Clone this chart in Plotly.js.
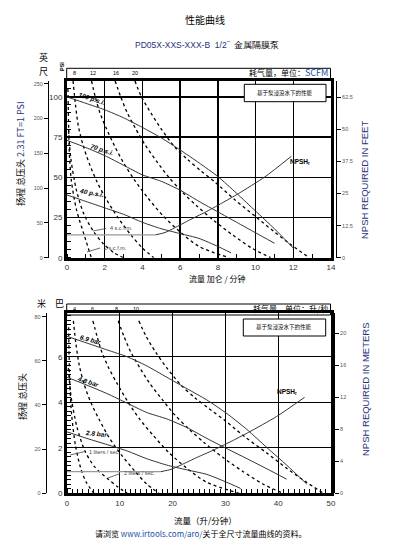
<!DOCTYPE html>
<html><head><meta charset="utf-8">
<script src="https://cdn.plot.ly/plotly-3.0.1.min.js"></script>
<style>html,body{margin:0;padding:0;background:#fff}</style>
</head><body><div id="chart" style="width:393px;height:560px"></div>
<script>
// ---------- TOP CHART (US units: flow gpm, head psi) ----------
const usFlowTicks = [0, 2, 4, 6, 8, 10, 12, 14];
const psiTicks = [0, 25, 50, 75, 100];
const feetTicks = [0, 50, 100, 150, 200, 250];
const npshFeetTicks = [0, 12.5, 25, 37.5, 50, 62.5];
const scfmLabels = ['8', '12', '16', '20'];
const scfmLabelFlow = [0.41, 1.38, 2.61, 3.58];

const p100Flow = [0, 1, 2, 3, 4, 5, 6, 7, 8, 9, 10, 11, 12];
const p100Head = [100, 96, 92, 87, 81, 74.5, 67, 59, 50.5, 40, 29, 18, 6];
const p70Flow = [0, 1, 2, 3, 4, 5, 6, 7, 8, 9, 10, 11];
const p70Head = [73, 68.5, 63.5, 57.5, 51.5, 47.5, 42, 35, 28.5, 22, 15.5, 9];
const p40Flow = [0, 1, 2, 3, 4, 5, 6, 7, 8, 8.7];
const p40Head = [39, 35, 31, 27, 22, 18, 15, 12, 7, 3];

const npshFlatFlow = [0, 4.7];
const npshFlatFt = [8.9, 8.9];
const npshFlow = [4.7, 5.2, 5.7, 6.5, 7.3, 8.2, 9.1, 10.5, 11.9];
const npshFt = [8.9, 9.8, 11.6, 14.7, 17.6, 21.2, 25, 31.5, 39.5];

const s2Flow = [0.05, 0.08, 0.11, 0.14, 0.23, 0.5, 0.94, 1.29];
const s2Head = [105, 85, 70, 61, 48, 30, 13, 0];
const s4Flow = [0.08, 0.2, 0.5, 0.9, 1.37, 1.9, 2.5, 3.0];
const s4Head = [80, 62, 42, 27, 17, 9, 3, 0];
const s8Flow = [0.32, 0.45, 0.6, 0.85, 1.2, 1.6, 2.1, 2.7, 3.4, 4.0, 4.6];
const s8Head = [110, 95, 82, 70, 58, 47, 36, 25, 14, 6, 0];
const s12Flow = [1.3, 1.5, 1.75, 2.1, 2.5, 3.0, 3.6, 4.3, 5.1, 6.0, 7.0, 8.6];
const s12Head = [110, 100, 90, 80, 70, 59, 48, 37, 26, 16, 7, 0];
const s16Flow = [2.55, 2.85, 3.2, 3.65, 4.15, 4.75, 5.4, 6.1, 6.9, 7.8, 8.8, 9.8, 10.8];
const s16Head = [110, 100, 90, 80, 70, 60, 50, 41, 32, 23, 14, 6, 0];
const s20Flow = [3.6, 3.95, 4.45, 5.0, 5.7, 6.4, 7.1, 7.9, 8.9, 10.0, 11.0, 11.9, 12.85];
const s20Head = [110, 100, 90, 80, 69, 61, 54, 46.5, 36, 25.6, 16, 7.9, 0];

// ---------- BOTTOM CHART (metric: flow l/min, head bar) ----------
const lpmTicks = [0, 10, 20, 30, 40, 50];
const barTicks = [0, 2, 4, 6];
const meterTicks = [0, 20, 40, 60, 80];
const npshMeterTicks = [0, 4, 8, 12, 16, 20];
const lpsLabels = ['4', '6', '8', '10'];
const lpsLabelFlow = [1.37, 4.8, 9.4, 13.1];

const b69Flow = [0, 3.8, 7.6, 11.4, 15.1, 18.9, 22.7, 26.5, 30.3, 34.1, 37.9, 41.6, 45.4];
const b69Head = [6.9, 6.6, 6.3, 6.0, 5.6, 5.1, 4.6, 4.1, 3.5, 2.8, 2.0, 1.24, 0.41];
const b48Flow = [0, 3.8, 7.6, 11.4, 15.1, 18.9, 22.7, 26.5, 30.3, 34.1, 37.9, 41.6];
const b48Head = [5.1, 4.75, 4.38, 3.96, 3.55, 3.27, 2.89, 2.41, 1.96, 1.52, 1.07, 0.62];
const b28Flow = [0, 3.8, 7.6, 11.4, 15.1, 18.9, 22.7, 26.5, 30.3, 32.9];
const b28Head = [2.7, 2.41, 2.14, 1.86, 1.52, 1.24, 1.03, 0.83, 0.48, 0.21];

const mNpshFlatFlow = [0, 17.8];
const mNpshFlatM = [2.71, 2.71];
const mNpshFlow = [17.8, 19.7, 21.6, 24.6, 27.6, 31.0, 34.4, 39.7, 45.0];
const mNpshM = [2.71, 2.99, 3.54, 4.48, 5.36, 6.46, 7.62, 9.6, 12.0];

const l1Flow = [0.3, 0.4, 0.5, 0.62, 0.9, 1.6, 2.6, 3.6, 5.1];
const l1Head = [7.3, 6.0, 5.0, 4.4, 3.4, 2.1, 1.1, 0.5, 0];
const l2Flow = [0.25, 0.76, 1.9, 3.4, 5.2, 7.8, 9.5, 11.4];
const l2Head = [5.5, 4.27, 2.9, 1.86, 1.17, 0.62, 0.3, 0];
const l4Flow = [1.2, 1.7, 2.3, 3.2, 4.5, 6.1, 7.9, 10.2, 12.9, 15.1, 17.4];
const l4Head = [7.58, 6.55, 5.65, 4.82, 4.0, 3.24, 2.48, 1.72, 0.96, 0.41, 0];
const l6Flow = [4.9, 5.7, 6.6, 7.9, 9.5, 11.4, 13.6, 16.3, 19.3, 22.7, 26.5, 32.6];
const l6Head = [7.58, 6.89, 6.2, 5.51, 4.82, 4.07, 3.31, 2.55, 1.79, 1.1, 0.48, 0];
const l8Flow = [9.7, 10.8, 12.1, 13.8, 15.7, 18.0, 20.4, 23.1, 26.1, 29.5, 33.3, 37.1, 40.9];
const l8Head = [7.58, 6.89, 6.2, 5.51, 4.82, 4.13, 3.45, 2.82, 2.2, 1.58, 0.96, 0.41, 0];
const l10Flow = [13.6, 15.0, 16.8, 18.9, 21.6, 24.2, 26.9, 29.9, 33.7, 37.9, 41.6, 45.0, 48.6];
const l10Head = [7.58, 6.89, 6.2, 5.51, 4.75, 4.2, 3.72, 3.2, 2.48, 1.76, 1.1, 0.54, 0];

// ---------- helpers ----------
const W = 393, H = 560;
const PX = v => v / W, PY = v => 1 - v / H;
const LAT = 'Liberation Sans, Arial, sans-serif';
const CJK = 'Noto Sans CJK SC, sans-serif';
const NAVY = '#26327a';

function solid(x, y, xa, ya, color, w) {
  return {x, y, xaxis: xa, yaxis: ya, mode: 'lines', type: 'scatter', hoverinfo: 'skip',
    line: {color: color || '#333', width: w || 1, shape: 'spline', smoothing: 0.6}, showlegend: false};
}
function dashed(x, y, xa, ya) {
  return {x, y, xaxis: xa, yaxis: ya, mode: 'lines', type: 'scatter', hoverinfo: 'skip', cliponaxis: true,
    line: {color: '#000', width: 1.3, dash: '3px,3px', shape: 'spline', smoothing: 0.8}, showlegend: false};
}

const traces = [
  dashed(s2Flow, s2Head, 'x', 'y'), dashed(s4Flow, s4Head, 'x', 'y'),
  dashed(s8Flow, s8Head, 'x', 'y'), dashed(s12Flow, s12Head, 'x', 'y'),
  dashed(s16Flow, s16Head, 'x', 'y'), dashed(s20Flow, s20Head, 'x', 'y'),
  solid(p100Flow, p100Head, 'x', 'y'), solid(p70Flow, p70Head, 'x', 'y'), solid(p40Flow, p40Head, 'x', 'y'),
  solid(npshFlatFlow, npshFlatFt, 'x', 'y3', '#999', 1.2), solid(npshFlow, npshFt, 'x', 'y3', '#333', 1),
  {x: [0], y: [0], xaxis: 'x', yaxis: 'y2', type: 'scatter', mode: 'markers', marker: {opacity: 0}, showlegend: false, hoverinfo: 'skip'},

  dashed(l1Flow, l1Head, 'x2', 'y4'), dashed(l2Flow, l2Head, 'x2', 'y4'),
  dashed(l4Flow, l4Head, 'x2', 'y4'), dashed(l6Flow, l6Head, 'x2', 'y4'),
  dashed(l8Flow, l8Head, 'x2', 'y4'), dashed(l10Flow, l10Head, 'x2', 'y4'),
  solid(b69Flow, b69Head, 'x2', 'y4'), solid(b48Flow, b48Head, 'x2', 'y4'), solid(b28Flow, b28Head, 'x2', 'y4'),
  solid(mNpshFlatFlow, mNpshFlatM, 'x2', 'y6', '#999', 1.2), solid(mNpshFlow, mNpshM, 'x2', 'y6', '#333', 1),
  {x: [0], y: [0], xaxis: 'x2', yaxis: 'y5', type: 'scatter', mode: 'markers', marker: {opacity: 0}, showlegend: false, hoverinfo: 'skip'}
];

const tickFont = {family: LAT, size: 8, color: '#333'};
const smallFont = {family: LAT, size: 5.5, color: '#555'};
function mainX(domainAnchor, range, tv, minorD) {
  return {anchor: domainAnchor, domain: [PX(67), PX(331)], range, tickvals: tv, showgrid: true,
    gridcolor: '#000', gridwidth: 1.3, zeroline: false, showline: true, mirror: true, linewidth: 3,
    linecolor: '#000', ticks: '', tickfont: tickFont, fixedrange: true,
    minor: {ticks: 'inside', dtick: minorD, ticklen: 4, tickcolor: '#000', tickwidth: 1, showgrid: false}};
}
function mainY(anchor, dom, range, tv, minorD) {
  return {anchor, domain: dom, range, tickvals: tv, showgrid: true, gridcolor: '#000', gridwidth: 1.3,
    zeroline: false, showline: true, mirror: true, linewidth: 3, linecolor: '#000', ticks: '',
    tickfont: tickFont, fixedrange: true,
    minor: {ticks: 'inside', dtick: minorD, ticklen: 4, tickcolor: '#000', tickwidth: 1, showgrid: false}};
}
function sideY(over, pos, side, range, tv) {
  return {overlaying: over, anchor: 'free', position: pos, side, range, tickvals: tv, showgrid: false,
    zeroline: false, showline: true, linewidth: 1, linecolor: '#000', ticks: 'outside', ticklen: 4,
    tickcolor: '#000', tickfont: smallFont, fixedrange: true};
}

const topDom = [PY(257.7), PY(80.5)];
const botDom = [PY(493.3), PY(313.3)];

const ann = [];
function A(x, y, text, o) {
  ann.push(Object.assign({xref: 'paper', yref: 'paper', x: PX(x), y: PY(y), text, showarrow: false,
    xanchor: 'center', yanchor: 'middle'}, o || {}));
}

A(205, 20, '性能曲线', {font: {family: CJK, size: 10, color: '#000'}});
A(133, 45, '<span style="color:' + NAVY + '">PD05X-XXS-XXX-B  1/2˝</span>  金属隔膜泵', {xanchor: 'left', font: {family: LAT, size: 8.5, color: '#000'}});
A(43, 58, '英', {font: {family: CJK, size: 9, color: '#000'}});
A(43, 71, '尺', {font: {family: CJK, size: 9, color: '#000'}});
A(62, 67, '<b>PSI</b>', {textangle: -90, font: {family: LAT, size: 5.5, color: '#000'}});
A(330, 72, '耗气量，单位：<span style="color:#1d4fa8;font-size:9px">SCFM</span>', {xanchor: 'right', font: {family: CJK, size: 8, color: '#000'}});
scfmLabelFlow.forEach((f, i) => ann.push({xref: 'x', yref: 'paper', x: f, y: PY(73), xanchor: 'center', yanchor: 'middle', text: scfmLabels[i], showarrow: false, font: {family: LAT, size: 5.5, color: '#000'}}));
A(285, 93, '基于泵浸没水下的性能', {font: {family: CJK, size: 5.5, color: '#000'}});
A(20, 154, '扬程 总压头 <span style="color:' + NAVY + '">2.31 FT=1 PSI</span>', {textangle: -90, font: {family: CJK, size: 9, color: '#000'}});
A(365, 180, 'NPSH REQUIRED IN FEET', {textangle: -90, font: {family: LAT, size: 9.5, color: NAVY}});
A(217, 278, '流量 加仑 / 分钟', {font: {family: CJK, size: 8, color: '#000'}});
A(92, 99, '<b><i>100 p.s.i.</i></b>', {textangle: 18, font: {family: LAT, size: 6.5, color: '#000'}});
A(102, 150, '<b><i>70 p.s.i.</i></b>', {textangle: 18, font: {family: LAT, size: 6.5, color: '#000'}});
A(91, 193, '<b><i>40 p.s.i.</i></b>', {textangle: 10, font: {family: LAT, size: 6.5, color: '#000'}});
A(300, 162, '<b>NPSH<sub>r</sub></b>', {font: {family: LAT, size: 6.5, color: '#000'}});
A(108, 228, '4 s.c.f.m.', {xanchor: 'left', font: {family: LAT, size: 5.5, color: '#444'}});
A(102, 248, '2 s.c.f.m.', {xanchor: 'left', font: {family: LAT, size: 5.5, color: '#444'}});

// bottom chart texts
A(41, 303, '米', {font: {family: CJK, size: 9, color: '#000'}});
A(59, 303, '巴', {font: {family: CJK, size: 9, color: '#000'}});
A(330, 308, '耗气量，单位：升/秒', {xanchor: 'right', font: {family: CJK, size: 8, color: '#000'}});
lpsLabelFlow.forEach((f, i) => ann.push({xref: 'x2', yref: 'paper', x: f, y: PY(308.5), xanchor: 'center', yanchor: 'middle', text: lpsLabels[i], showarrow: false, font: {family: LAT, size: 5.5, color: '#000'}}));
A(284, 327, '基于泵浸没水下的性能', {font: {family: CJK, size: 5.5, color: '#000'}});
A(22, 397, '扬程 总压头', {textangle: -90, font: {family: CJK, size: 9, color: '#000'}});
A(365, 389, 'NPSH REQUIRED IN METERS', {textangle: -90, font: {family: LAT, size: 9.5, color: NAVY}});
A(205, 520, '流量（升/分钟）', {font: {family: CJK, size: 8.5, color: '#000'}});
A(90, 339, '<b><i>6.9 bar</i></b>', {textangle: 15, font: {family: LAT, size: 6.5, color: '#000'}});
A(88, 381, '<b><i>4.8 bar</i></b>', {textangle: 18, font: {family: LAT, size: 6.5, color: '#000'}});
A(96, 433, '<b><i>2.8 bar</i></b>', {textangle: 5, font: {family: LAT, size: 6.5, color: '#000'}});
A(287, 392, '<b>NPSH<sub>r</sub></b>', {font: {family: LAT, size: 6.5, color: '#000'}});
A(87, 452, '1 liters / sec.', {xanchor: 'left', font: {family: LAT, size: 5.5, color: '#444'}});
A(122, 473, '2 liters / sec.', {xanchor: 'left', font: {family: LAT, size: 5.5, color: '#444'}});

A(93, 533, '请浏览 <span style="color:#1d4fa8">www.irtools.com/aro/</span>关于全尺寸流量曲线的资料。', {xanchor: 'left', font: {family: CJK, size: 8, color: '#000'}});

function line(x0, y0, x1, y1) {
  return {type: 'line', xref: 'paper', yref: 'paper', x0: PX(x0), y0: PY(y0), x1: PX(x1), y1: PY(y1), line: {color: '#444', width: 0.8}};
}
const shapes = [
  {type: 'rect', xref: 'paper', yref: 'paper', x0: PX(66.7), x1: PX(330.5), y0: PY(79), y1: PY(68.3), line: {color: '#000', width: 1}},
  {type: 'rect', xref: 'paper', yref: 'paper', x0: PX(244.3), x1: PX(326), y0: PY(101.7), y1: PY(84.3), line: {color: '#000', width: 1}, fillcolor: '#fff'},
  {type: 'rect', xref: 'paper', yref: 'paper', x0: PX(66.7), x1: PX(330.5), y0: PY(315), y1: PY(304), line: {color: '#000', width: 1}},
  {type: 'rect', xref: 'paper', yref: 'paper', x0: PX(243.3), x1: PX(325.7), y0: PY(336), y1: PY(319), line: {color: '#000', width: 1}, fillcolor: '#fff'},
  line(93, 231, 106, 228.5), line(87, 252, 100, 248),
  line(70, 455, 85, 451.5), line(108, 478, 120, 473.5)
];

const layout = {
  width: W, height: H, margin: {l: 0, r: 0, t: 0, b: 0}, paper_bgcolor: '#fff', plot_bgcolor: '#fff',
  showlegend: false,
  xaxis: mainX('y', [0, 14], usFlowTicks, 1),
  yaxis: mainY('x', topDom, [0, 110.2], psiTicks, 5),
  yaxis2: sideY('y', PX(48), 'left', [0, 254.6], feetTicks),
  yaxis3: sideY('y', PX(336), 'right', [0, 69], npshFeetTicks),
  xaxis2: mainX('y4', [0, 50], lpmTicks, 1),
  yaxis4: mainY('x2', botDom, [0, 7.91], barTicks, 0.2),
  yaxis5: sideY('y4', PX(45.7), 'left', [0, 81.5], meterTicks),
  yaxis6: sideY('y4', PX(334), 'right', [0, 22.5], npshMeterTicks),
  annotations: ann, shapes
};

Plotly.newPlot('chart', traces, layout, {staticPlot: true, displayModeBar: false});
</script></body></html>
